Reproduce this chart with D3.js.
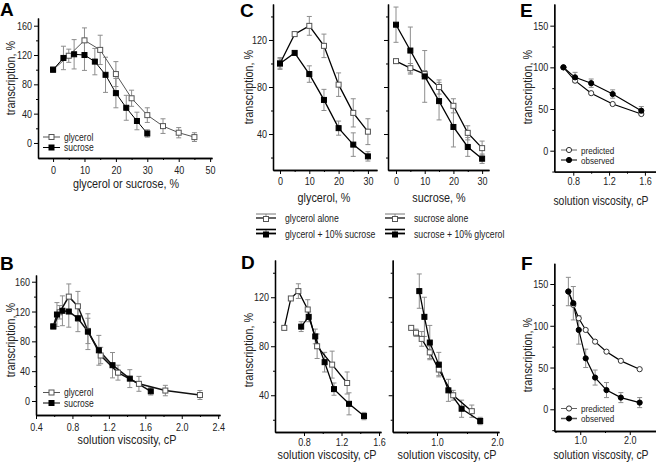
<!DOCTYPE html>
<html><head><meta charset="utf-8">
<script src="https://cdn.jsdelivr.net/npm/d3@7"></script>
<style>
body{margin:0;background:#fff}
svg{display:block;font-family:"Liberation Sans",Arial,Helvetica,sans-serif}
</style>
</head><body>
<svg id="c" width="656" height="465"></svg>
<script>
// ---------- DATA ----------
// Panel A: transcription vs % cosolvent
const A_glyX = [0,5,10,15,20,25,30,35,40,45];
const A_glyY = [100,119,140,127,94,61,38,23,14,8];
const A_glyErr = [0,9,17,20,17,11,10,10,7,6];
const A_sucX = [0,3.3,6.7,10,13.3,16.7,20,23.3,26.7,30];
const A_sucY = [100,116,121,120,111,93,68,48,30,13];
const A_sucErr = [0,16,20,21,18,24,20,17,12,5];
const A_xTicks = [0,10,20,30,40,50];
const A_yTicks = [0,40,80,120,160];
// Panel B: transcription vs viscosity
const B_glyX = [0.59,0.66,0.76,0.86,0.97,1.11,1.30,1.53,1.82,2.20];
const B_glyY = [100,119,140,127,94,61,38,23,14,8];
const B_glyErr = [0,9,17,20,17,11,10,10,7,6];
const B_sucX = [0.59,0.63,0.69,0.76,0.86,0.97,1.09,1.24,1.43,1.66];
const B_sucY = [100,116,121,120,111,93,68,48,30,13];
const B_sucErr = [0,16,20,21,18,24,20,17,12,5];
const B_xTicks = [0.4,0.8,1.2,1.6,2.0,2.4];
const B_yTicks = [0,40,80,120,160];
// Panel C
const C_conc = [0,5,10,15,20,25,30];
const C_glyAloneY = [100,125,132,115,82,58,42];
const C_glyAloneErr = [5,1,8,10,10,12,11];
const C_glySucY = [100,109,91,69,45,31,21];
const C_glySucErr = [4,0,7,9,6,10,4];
const C_sucAloneY = [102,96,91,80,64,41,28];
const C_sucAloneErr = [1,4,3,6,6,6,6];
const C_sucGlyY = [133,111,89,68,46,29,19];
const C_sucGlyErr = [15,20,22,16,17,8,4];
const C_xTicks = [0,10,20,30];
const C_yTicks = [40,80,120];
// Panel D
const D_glyAloneX = [0.59,0.66,0.74,0.84,0.94,1.10,1.26];
const D_glyAloneY = [95,119,125,110,80,65,50];
const D_glyAloneErr = [0,1,6,8,10,11,9];
const D_glySucX = [0.77,0.85,0.92,1.02,1.12,1.28,1.44];
const D_glySucY = [96,104,88,67,45,33,23];
const D_glySucErr = [4,4,6,8,5,9,3];
const D_sucAloneX = [0.57,0.65,0.745,0.88,1.03,1.27,1.58];
const D_sucAloneY = [95,91,86,75,61,40,27];
const D_sucAloneErr = [1,3,6,5,5,4,5];
const D_sucGlyX = [0.705,0.79,0.88,1.03,1.19,1.41,1.72];
const D_sucGlyY = [125,104,83,65,44,29,19];
const D_sucGlyErr = [14,16,14,10,9,7,3];
const D_leftXTicks = [0.8,1.2,1.6];
const D_rightXTicks = [1.0,2.0];
const D_yTicks = [40,80,120];
// Panel E
const E_x = [0.69,0.82,1.0,1.24,1.56];
const E_pred = [100,84,69,56,44];
const E_obs = [100,88,81,68,48];
const E_obsErr = [0,6,5,5,5];
const E_xTicks = [0.8,1.2,1.6];
const E_yTicks = [0,50,100,150];
// Panel F
const F_x = [0.76,0.86,0.97,1.11,1.30,1.53,1.82,2.20];
const F_pred = [141,125,109,95,81,69,58,48];
const F_obs = [141,127,95,61,38,23,14,8];
const F_obsErr = [17,20,17,11,9,9,6,6];
const F_xTicks = [1.0,2.0];
const F_yTicks = [0,50,100,150];

// ---------- DRAWING ----------
const svg = d3.select('#c');
const ERR = '#8d8d8d';
const OPEN = '#555';

function condense(sel, f){
  sel.each(function(){
    const w = this.getComputedTextLength();
    if(w>0){ this.setAttribute('textLength', (w*f).toFixed(2)); this.setAttribute('lengthAdjust','spacingAndGlyphs'); }
  });
}

function axes(o){
  const x = d3.scaleLinear().domain(o.xd).range(o.xr);
  const y = d3.scaleLinear().domain(o.yd).range(o.yr);
  const g = svg.append('g');
  const fx = o.xFmt || (d=>d);
  const fy = o.yFmt || (d=>d);
  const bx = g.append('g').attr('transform',`translate(0,${o.yr[0]})`);
  bx.append('g').call(d3.axisBottom(x).tickValues(o.xMinor||[]).tickSize(2).tickSizeOuter(0).tickFormat(''));
  bx.append('g').call(d3.axisBottom(x).tickValues(o.xMajor).tickSize(4).tickSizeOuter(0).tickPadding(o.xPad||2).tickFormat(fx));
  const by = g.append('g').attr('transform',`translate(${o.xr[0]},0)`);
  by.append('g').call(d3.axisLeft(y).tickValues(o.yMinor||[]).tickSize(2).tickSizeOuter(0).tickFormat(''));
  by.append('g').call(d3.axisLeft(y).tickValues(o.yMajor).tickSize(4).tickSizeOuter(0).tickPadding(2).tickFormat(o.noYLabels?'':fy));
  g.selectAll('.domain').attr('stroke','#000').attr('stroke-width',1.3);
  g.selectAll('.tick line').attr('stroke','#000');
  const tt = g.selectAll('.tick text').attr('fill','#222').style('font-size','11px').attr('font-family','"Liberation Sans",Arial,sans-serif');
  condense(tt, 0.82);
  return {x,y,g};
}

function errBars(p, xs, ys, errs){
  const eg = p.g.append('g').attr('stroke',ERR).attr('stroke-width',1);
  xs.forEach((xv,i)=>{
    const e = errs[i]; if(!e) return;
    const cx=p.x(xv), y1=p.y(ys[i]+e), y2=p.y(ys[i]-e);
    eg.append('line').attr('x1',cx).attr('x2',cx).attr('y1',y1).attr('y2',y2);
    eg.append('line').attr('x1',cx-2.5).attr('x2',cx+2.5).attr('y1',y1).attr('y2',y1);
    eg.append('line').attr('x1',cx-2.5).attr('x2',cx+2.5).attr('y1',y2).attr('y2',y2);
  });
}
function line(p, xs, ys, color, w){
  p.g.append('path').datum(xs.map((v,i)=>[v,ys[i]]))
    .attr('d', d3.line().x(d=>p.x(d[0])).y(d=>p.y(d[1])))
    .attr('fill','none').attr('stroke',color).attr('stroke-width',w);
}
function marker(g, cx, cy, type, filled){
  if(type==='sq'){
    g.append('rect').attr('x',cx-2.5).attr('y',cy-2.5).attr('width',5).attr('height',5)
      .attr('fill',filled?'#000':'#fff').attr('stroke',filled?'#000':OPEN).attr('stroke-width',1);
  } else {
    g.append('circle').attr('cx',cx).attr('cy',cy).attr('r',2.6)
      .attr('fill',filled?'#000':'#fff').attr('stroke',filled?'#000':'#333').attr('stroke-width',1);
  }
}
function markers(p, xs, ys, type, filled){
  xs.forEach((xv,i)=>marker(p.g, p.x(xv), p.y(ys[i]), type, filled));
}
function text(x, y, s, o={}){
  const t = svg.append('text').attr('x',x).attr('y',y).text(s)
    .attr('fill', o.fill||'#222').style('font-size',(o.size||13.5)+'px')
    .attr('text-anchor',o.anchor||'middle').attr('dominant-baseline','central');
  if(o.rot) t.attr('transform',`rotate(-90,${x},${y})`);
  condense(t, o.f||0.8);
  return t;
}
function letter(x, y, s){
  svg.append('text').attr('x',x).attr('y',y).text(s).attr('font-weight','bold')
    .style('font-size','19px').attr('fill','#000');
}
function simpleLegend(x1, x2, y, label, type, filled, color, w, fs){
  svg.append('line').attr('x1',x1).attr('x2',x2).attr('y1',y).attr('y2',y).attr('stroke',color).attr('stroke-width',w);
  marker(svg, (x1+x2)/2, y, type, filled);
  text(x2+4, y, label, {anchor:'start', size:fs||10, f:0.85});
}
function errLegend(x1, x2, y, label, filled){
  const cx=(x1+x2)/2;
  svg.append('line').attr('x1',x1).attr('x2',x2).attr('y1',y).attr('y2',y).attr('stroke','#000').attr('stroke-width',filled?1.8:1.2);
  svg.append('line').attr('x1',cx).attr('x2',cx).attr('y1',y-4).attr('y2',y+4).attr('stroke',ERR);
  svg.append('line').attr('x1',x1).attr('x2',x2).attr('y1',y-4).attr('y2',y-4).attr('stroke',filled?'#000':'#777').attr('stroke-width',filled?1.6:1);
  marker(svg, cx, y+1, 'sq', filled);
  text(x2+9, y, label, {anchor:'start', size:10.5, f:0.83});
}

// ---- Panel A ----
const pA = axes({xd:[-4.8,50.6], xr:[38,212], yd:[-20.5,170.5], yr:[158,18],
  xMajor:A_xTicks, xMinor:[5,15,25,35,45], yMajor:A_yTicks, yMinor:[20,60,100,140], xPad:4});
errBars(pA, A_glyX, A_glyY, A_glyErr);
errBars(pA, A_sucX, A_sucY, A_sucErr);
line(pA, A_glyX, A_glyY, '#555', 1);
line(pA, A_sucX, A_sucY, '#000', 1);
markers(pA, A_glyX, A_glyY, 'sq', false);
markers(pA, A_sucX, A_sucY, 'sq', true);
simpleLegend(43, 60, 137, 'glycerol', 'sq', false, '#555', 1);
simpleLegend(43, 60, 147.5, 'sucrose', 'sq', true, '#000', 1);
text(126, 183, 'glycerol or sucrose, %');
text(10, 78, 'transcription, %', {rot:true});
letter(0, 16, 'A');

// ---- Panel B ----
const pB = axes({xd:[0.4,2.42], xr:[36,220], yd:[-18.8,169], yr:[415,275],
  xMajor:B_xTicks, xMinor:[0.6,1.0,1.4,1.8,2.2], yMajor:B_yTicks, yMinor:[20,60,100,140], xPad:4,
  xFmt:d3.format('.1f')});
errBars(pB, B_glyX, B_glyY, B_glyErr);
errBars(pB, B_sucX, B_sucY, B_sucErr);
line(pB, B_glyX, B_glyY, '#111', 1.5);
line(pB, B_sucX, B_sucY, '#111', 1.5);
markers(pB, B_glyX, B_glyY, 'sq', false);
markers(pB, B_sucX, B_sucY, 'sq', true);
simpleLegend(43, 60, 392.5, 'glycerol', 'sq', false, '#555', 1);
simpleLegend(43, 60, 403, 'sucrose', 'sq', true, '#000', 1);
text(127, 439, 'solution viscosity, cP');
text(10, 340, 'transcription, %', {rot:true});
letter(0, 270, 'B');

// ---- Panel C ----
const pCL = axes({xd:[-2.39,33.1], xr:[273,377], yd:[9.4,150.6], yr:[170,4],
  xMajor:C_xTicks, xMinor:[5,15,25], yMajor:C_yTicks, yMinor:[20,60,100,140], xPad:3});
errBars(pCL, C_conc, C_glyAloneY, C_glyAloneErr);
errBars(pCL, C_conc, C_glySucY, C_glySucErr);
line(pCL, C_conc, C_glyAloneY, '#000', 1.3);
line(pCL, C_conc, C_glySucY, '#000', 1.3);
markers(pCL, C_conc, C_glyAloneY, 'sq', false);
markers(pCL, C_conc, C_glySucY, 'sq', true);
const pCR = axes({xd:[-2.79,32.4], xr:[388,489], yd:[9.4,150.6], yr:[170,4],
  xMajor:C_xTicks, xMinor:[5,15,25], yMajor:C_yTicks, yMinor:[20,60,100,140], xPad:3, noYLabels:true});
errBars(pCR, C_conc, C_sucAloneY, C_sucAloneErr);
errBars(pCR, C_conc, C_sucGlyY, C_sucGlyErr);
line(pCR, C_conc, C_sucAloneY, '#000', 1.3);
line(pCR, C_conc, C_sucGlyY, '#000', 1.3);
markers(pCR, C_conc, C_sucAloneY, 'sq', false);
markers(pCR, C_conc, C_sucGlyY, 'sq', true);
text(324, 197, 'glycerol, %');
text(439, 197, 'sucrose, %');
text(248, 87, 'transcription, %', {rot:true});
errLegend(256, 276, 218, 'glycerol alone', false);
errLegend(256, 276, 233.5, 'glycerol + 10% sucrose', true);
errLegend(385, 405, 218, 'sucrose alone', false);
errLegend(385, 405, 233.5, 'sucrose + 10% glycerol', true);
letter(240, 17, 'C');

// ---- Panel D ----
const pDL = axes({xd:[0.491,1.621], xr:[275,381], yd:[10,150.4], yr:[432,260],
  xMajor:D_leftXTicks, xMinor:[1.0,1.4], yMajor:D_yTicks, yMinor:[20,60,100,140], xPad:2,
  xFmt:d3.format('.1f')});
errBars(pDL, D_glyAloneX, D_glyAloneY, D_glyAloneErr);
errBars(pDL, D_glySucX, D_glySucY, D_glySucErr);
line(pDL, D_glyAloneX, D_glyAloneY, '#000', 1.3);
line(pDL, D_glySucX, D_glySucY, '#000', 1.3);
markers(pDL, D_glyAloneX, D_glyAloneY, 'sq', false);
markers(pDL, D_glySucX, D_glySucY, 'sq', true);
const pDR = axes({xd:[0.262,2.033], xr:[392.7,499], yd:[10,150.4], yr:[432,260],
  xMajor:D_rightXTicks, xMinor:[0.5,1.5], yMajor:D_yTicks, yMinor:[20,60,100,140], xPad:2, noYLabels:true,
  xFmt:d3.format('.1f')});
errBars(pDR, D_sucAloneX, D_sucAloneY, D_sucAloneErr);
errBars(pDR, D_sucGlyX, D_sucGlyY, D_sucGlyErr);
line(pDR, D_sucAloneX, D_sucAloneY, '#000', 1.3);
line(pDR, D_sucGlyX, D_sucGlyY, '#000', 1.3);
markers(pDR, D_sucAloneX, D_sucAloneY, 'sq', false);
markers(pDR, D_sucGlyX, D_sucGlyY, 'sq', true);
text(327, 454, 'solution viscosity, cP');
text(447, 454, 'solution viscosity, cP');
text(248, 350, 'transcription, %', {rot:true});
letter(241, 269, 'D');

// ---- Panel E ----
const pE = axes({xd:[0.588,1.724], xr:[554.3,656], yd:[-25.2,176], yr:[171.7,4],
  xMajor:E_xTicks, xMinor:[1.0,1.4], yMajor:E_yTicks, yMinor:[-25,25,75,125], xPad:2,
  xFmt:d3.format('.1f')});
errBars(pE, E_x, E_obs, E_obsErr);
line(pE, E_x, E_pred, '#000', 1.2);
line(pE, E_x, E_obs, '#000', 1.2);
markers(pE, E_x, E_pred, 'ci', false);
markers(pE, E_x, E_obs, 'ci', true);
simpleLegend(561, 577, 150, 'predicted', 'ci', false, '#666', 1, 9.5);
simpleLegend(561, 577, 160, 'observed', 'ci', true, '#555', 1.5, 9.5);
text(601, 200, 'solution viscosity, cP', {f:0.77});
text(527, 87, 'transcription, %', {rot:true});
letter(520, 17, 'E');

// ---- Panel F ----
const pF = axes({xd:[0.476,2.53], xr:[554.3,656], yd:[-26,174.8], yr:[431,263.3],
  xMajor:F_xTicks, xMinor:[0.5,1.5], yMajor:F_yTicks, yMinor:[-25,25,75,125], xPad:1,
  xFmt:d3.format('.1f')});
errBars(pF, F_x, F_obs, F_obsErr);
line(pF, F_x, F_pred, '#000', 1.2);
line(pF, F_x, F_obs, '#000', 1.2);
markers(pF, F_x, F_pred, 'ci', false);
markers(pF, F_x, F_obs, 'ci', true);
simpleLegend(561, 577, 408.5, 'predicted', 'ci', false, '#666', 1, 9.5);
simpleLegend(561, 577, 418.5, 'observed', 'ci', true, '#555', 1.5, 9.5);
text(601, 454, 'solution viscosity, cP', {f:0.77});
text(527, 355, 'transcription, %', {rot:true});
letter(521, 270, 'F');
</script>
</body></html>
